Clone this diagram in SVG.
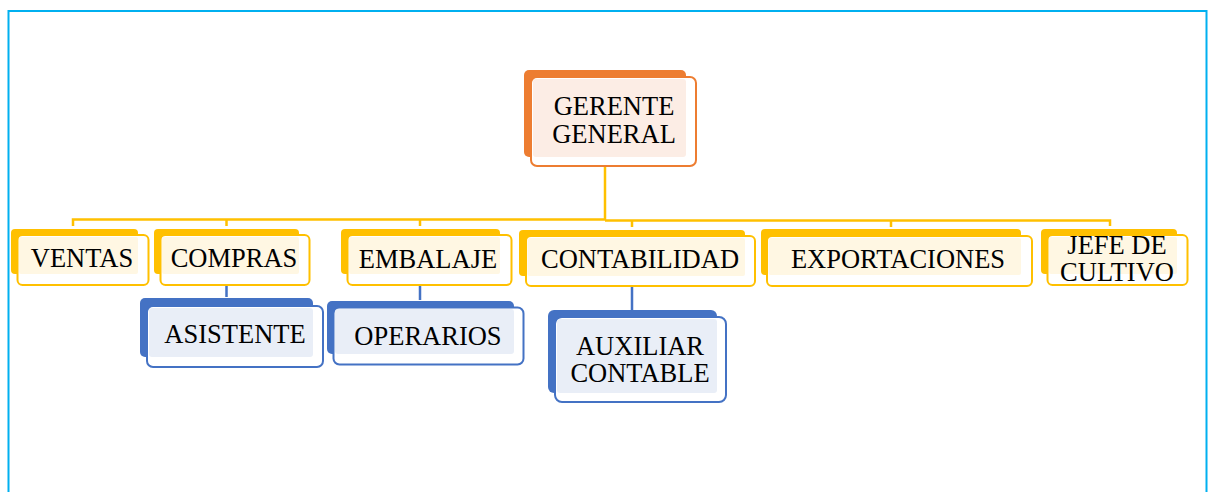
<svg xmlns="http://www.w3.org/2000/svg" width="1215" height="492" viewBox="0 0 1215 492">
<style>
.t{font-family:"Liberation Serif","Times New Roman",serif;font-size:26.5px;fill:#000;text-anchor:middle}
.ob{fill:#ED7D31}.of{fill:#fff;stroke:#ED7D31;stroke-width:2}.ol{fill:#FCEDE5}
.yb{fill:#FFC000}.yf{fill:#fff;stroke:#FFC000;stroke-width:2}.yl{fill:#FFF7E3}
.bb{fill:#4472C4}.bf{fill:#fff;stroke:#4472C4;stroke-width:2}.bl{fill:#E9EEF7}
.cy{fill:none;stroke:#FFC000;stroke-width:2.5}
.cb{fill:none;stroke:#4472C4;stroke-width:2.5}
</style>
<rect x="0" y="0" width="1215" height="492" fill="#fff"/>
<path d="M8.5 492 V11 H1206.5 V492" fill="none" stroke="#00B0F0" stroke-width="2"/>
<g id="connectors">
<path class="cy" d="M605 167 V220"/>
<path class="cy" d="M73 226 V219.5 H605"/>
<path class="cy" d="M605 220.5 H1110 V226"/>
<path class="cy" d="M226.5 219.5 V226 M420 219.5 V226 M632 220.5 V227 M891 220.5 V227"/>
<path class="cb" d="M226.5 285 V297 M420 285 V300 M632 286 V310"/>
</g>
<g id="gerente">
<rect class="ob" x="524" y="70" width="162" height="87" rx="5"/>
<rect class="of" x="531" y="77" width="165" height="89" rx="6"/>
<rect class="ol" x="533" y="79" width="153" height="78" rx="3"/>
<text class="t" x="614" y="115">GERENTE</text>
<text class="t" x="614" y="143">GENERAL</text>
</g>
<g id="ventas">
<rect class="yb" x="11" y="229" width="127" height="45" rx="4"/>
<rect class="yf" x="17.5" y="235" width="131" height="50" rx="5"/>
<rect class="yl" x="19" y="237" width="119" height="37" rx="2"/>
<text class="t" x="82" y="267">VENTAS</text>
</g>
<g id="compras">
<rect class="yb" x="154" y="229" width="145" height="45" rx="4"/>
<rect class="yf" x="160.5" y="235" width="149" height="50" rx="5"/>
<rect class="yl" x="162" y="237" width="137" height="37" rx="2"/>
<text class="t" x="234" y="267">COMPRAS</text>
</g>
<g id="embalaje">
<rect class="yb" x="341" y="229" width="159" height="45" rx="4"/>
<rect class="yf" x="347.5" y="235" width="164" height="50" rx="5"/>
<rect class="yl" x="349" y="237" width="151" height="37" rx="2"/>
<text class="t" x="428" y="268">EMBALAJE</text>
</g>
<g id="contabilidad">
<rect class="yb" x="519" y="230" width="226" height="46" rx="4"/>
<rect class="yf" x="526" y="236" width="229" height="50" rx="5"/>
<rect class="yl" x="527.5" y="238" width="217.5" height="38" rx="2"/>
<text class="t" x="640" y="268">CONTABILIDAD</text>
</g>
<g id="exportaciones">
<rect class="yb" x="761" y="229" width="260" height="46" rx="4"/>
<rect class="yf" x="767" y="236" width="265" height="50" rx="5"/>
<rect class="yl" x="768.5" y="238" width="252.5" height="37" rx="2"/>
<text class="t" x="898" y="268">EXPORTACIONES</text>
</g>
<g id="jefe">
<rect class="yb" x="1041" y="229" width="136" height="45" rx="4"/>
<rect class="yf" x="1047.5" y="235" width="140" height="50" rx="5"/>
<rect class="yl" x="1049" y="237" width="128" height="37" rx="2"/>
<text class="t" x="1117" y="254">JEFE DE</text>
<text class="t" x="1117" y="281">CULTIVO</text>
</g>
<g id="asistente">
<rect class="bb" x="140" y="298" width="173" height="59" rx="5"/>
<rect class="bf" x="147" y="306" width="176" height="61" rx="6"/>
<rect class="bl" x="149" y="308" width="164" height="49" rx="3"/>
<text class="t" x="235" y="343">ASISTENTE</text>
</g>
<g id="operarios">
<rect class="bb" x="327" y="301" width="187" height="53" rx="5"/>
<rect class="bf" x="333.5" y="307.5" width="190" height="57" rx="6"/>
<rect class="bl" x="335" y="309" width="179" height="45" rx="3"/>
<text class="t" x="428" y="345">OPERARIOS</text>
</g>
<g id="auxiliar">
<rect class="bb" x="548" y="310" width="169" height="83" rx="6"/>
<rect class="bf" x="555" y="317" width="171" height="85" rx="7"/>
<rect class="bl" x="557" y="319" width="160" height="74" rx="3"/>
<text class="t" x="640" y="355">AUXILIAR</text>
<text class="t" x="640" y="382">CONTABLE</text>
</g>
</svg>
